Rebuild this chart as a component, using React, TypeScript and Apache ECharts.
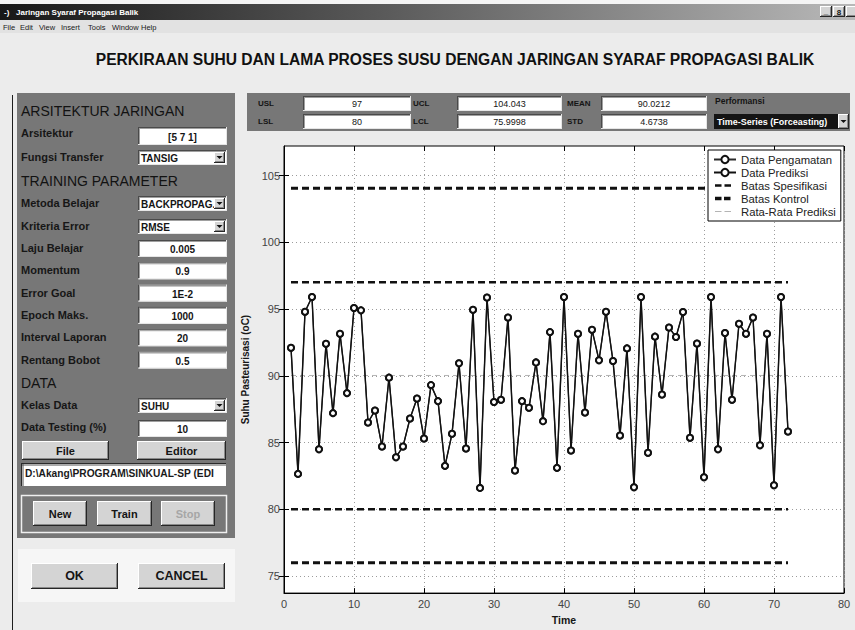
import React, { useEffect, useRef } from 'react';
import * as echarts from 'echarts';

const FONT = '"Liberation Sans", Arial, Helvetica, sans-serif';

// ---------- chart data ----------
const firstTime = 1;
const dataPengamatan = [
  92.1, 82.65, 94.8, 95.9, 84.5, 92.4, 87.2, 93.15, 88.7, 95.07,
  94.9, 86.5, 87.4, 84.7, 89.86, 83.9, 84.7, 86.8, 88.3, 85.3,
  89.3, 88.1, 83.25, 85.65, 90.94, 84.55, 94.95, 81.6, 95.86, 88.04,
  88.2, 94.36, 82.9, 88.1, 87.6, 91.0, 86.6, 93.27, 83.1, 95.9,
  84.4, 93.15, 87.25, 93.45, 91.16, 94.8, 91.1, 85.53, 92.05, 81.65,
  95.9, 84.23, 92.93, 88.6, 93.62, 92.9, 94.77, 85.36, 92.41, 82.4,
  95.9, 84.5, 93.2, 88.2, 93.9, 93.15, 94.36, 84.8, 93.15, 81.8,
  95.9, 85.83,
];
const dataPrediksi = [
  92.1, 82.65, 94.8, 95.9, 84.5, 92.4, 87.2, 93.15, 88.7, 95.07,
  94.9, 86.5, 87.4, 84.7, 89.86, 83.9, 84.7, 86.8, 88.3, 85.3,
  89.3, 88.1, 83.25, 85.65, 90.94, 84.55, 94.95, 81.6, 95.86, 88.04,
  88.2, 94.36, 82.9, 88.1, 87.6, 91.0, 86.6, 93.27, 83.1, 95.9,
  84.4, 93.15, 87.25, 93.45, 91.16, 94.8, 91.1, 85.53, 92.05, 81.65,
  95.9, 84.23, 92.93, 88.6, 93.62, 92.9, 94.77, 85.36, 92.41, 82.4,
  95.9, 84.5, 93.2, 88.2, 93.9, 93.15, 94.36, 84.8, 93.15, 81.8,
  95.9, 85.83,
];
const USL = 97;
const LSL = 80;
const UCL = 104.043;
const LCL = 75.9998;
const MEAN = 90.0212;
const xTicks = [0, 10, 20, 30, 40, 50, 60, 70, 80];
const yTicks = [75, 80, 85, 90, 95, 100, 105];
const X_MIN = 0;
const X_MAX = 80;
const Y_MIN = 73.72;
const Y_MAX = 107.21;
const legendNames = ['Data Pengamatan', 'Data Prediksi', 'Batas Spesifikasi', 'Batas Kontrol', 'Rata-Rata Prediksi'];

// ---------- GUI texts ----------
const windowTitle = 'Jaringan Syaraf Propagasi Balik';
const menuItems = ['File', 'Edit', 'View', 'Insert', 'Tools', 'Window', 'Help'];
const mainTitle = 'PERKIRAAN SUHU DAN LAMA PROSES SUSU DENGAN JARINGAN SYARAF PROPAGASI BALIK';
const statLabels = ['USL', 'LSL', 'UCL', 'LCL', 'MEAN', 'STD'];
const statValues = ['97', '80', '104.043', '75.9998', '90.0212', '4.6738'];

// legend icons (22 x 9 box) for the dashed reference lines
const ICON_SPEC = 'path://M0,0L0,0M22,9L22,9M1,3.3H7.5V5.7H1ZM10.5,3.3H17V5.7H10.5Z';
const ICON_KONTROL = 'path://M0,0L0,0M22,9L22,9M1,2.8H7.5V6.2H1ZM10,2.8H16.5V6.2H10Z';
const ICON_MEAN = 'path://M0,0L0,0M22,9L22,9M1,4H7.5V5H1ZM10.5,4H17V5H10.5Z';
const legendIcons: Record<string, string> = {
  'Batas Spesifikasi': ICON_SPEC,
  'Batas Kontrol': ICON_KONTROL,
  'Rata-Rata Prediksi': ICON_MEAN,
};

function buildGui(): any[] {
  const g: any[] = [];
  const R = (x: number, y: number, w: number, h: number, fill: any, stroke?: string, lw?: number) =>
    g.push({ type: 'rect', silent: true, shape: { x, y, width: w, height: h }, style: stroke ? { fill, stroke, lineWidth: lw || 1 } : { fill } });
  const L = (x1: number, y1: number, x2: number, y2: number, stroke: string, lw = 1) =>
    g.push({ type: 'line', silent: true, shape: { x1, y1, x2, y2 }, style: { stroke, lineWidth: lw } });
  const T = (x: number, y: number, text: string, size: number, weight: string, fill: string, align = 'left') =>
    g.push({ type: 'text', silent: true, x, y, style: { text, fontSize: size, fontWeight: weight, fill, fontFamily: FONT, align, verticalAlign: 'middle' } });
  const sunken = (x: number, y: number, w: number, h: number) => {
    R(x, y, w, h, '#fff');
    L(x, y + 0.5, x + w, y + 0.5, '#4a4a4a');
    L(x + 0.5, y, x + 0.5, y + h, '#4a4a4a');
    L(x + 1, y + 1.5, x + w - 1, y + 1.5, '#a0a0a0');
    L(x + 1.5, y + 1, x + 1.5, y + h - 1, '#a0a0a0');
    L(x, y + h - 0.5, x + w, y + h - 0.5, '#e6e6e6');
    L(x + w - 0.5, y, x + w - 0.5, y + h, '#e6e6e6');
  };
  const raised = (x: number, y: number, w: number, h: number) => {
    R(x, y, w, h, '#d4d4d4');
    L(x, y + 0.5, x + w - 1, y + 0.5, '#ffffff');
    L(x + 0.5, y, x + 0.5, y + h - 1, '#ffffff');
    L(x, y + h - 0.5, x + w, y + h - 0.5, '#262626');
    L(x + w - 0.5, y, x + w - 0.5, y + h, '#262626');
    L(x + 1, y + h - 1.5, x + w - 1, y + h - 1.5, '#8a8a8a');
    L(x + w - 1.5, y + 1, x + w - 1.5, y + h - 1, '#8a8a8a');
  };
  const button = (x: number, y: number, w: number, h: number, label: string, size: number, color = '#151515') => {
    raised(x, y, w, h);
    T(x + w / 2, y + h / 2, label, size, 'bold', color, 'center');
  };
  const input = (x: number, y: number, w: number, h: number, value: string, size = 10) => {
    sunken(x, y, w, h);
    T(x + w / 2, y + h / 2 + 1, value, size, 'bold', '#151515', 'center');
  };
  const arrowBtn = (bx: number, by: number, bw: number, bh: number) => {
    raised(bx, by, bw, bh);
    const cx = bx + bw / 2;
    const cy = by + bh / 2;
    g.push({ type: 'polygon', silent: true, shape: { points: [[cx - 3, cy - 1.5], [cx + 3, cy - 1.5], [cx, cy + 1.5]] }, style: { fill: '#111' } });
  };
  const dropdown = (x: number, y: number, w: number, h: number, value: string) => {
    sunken(x, y, w, h);
    T(x + 3, y + h / 2 + 1, value, 10, 'bold', '#151515');
    arrowBtn(x + w - 13, y + 2, 11, h - 4);
  };

  // window top strip, title bar and menu
  R(0, 0, 855, 4, '#f4f4f4');
  R(0, 4, 855, 16, new echarts.graphic.LinearGradient(0, 0, 1, 0, [
    { offset: 0, color: '#181818' },
    { offset: 0.45, color: '#5a5a5a' },
    { offset: 1, color: '#b8b8b8' },
  ]));
  T(4, 12.5, '-)', 8, 'bold', '#ffffff');
  T(16, 12.5, windowTitle, 8, 'bold', '#ffffff');
  raised(820, 6, 12, 11);
  T(826, 11, '_', 8, 'bold', '#111', 'center');
  raised(833, 6, 12, 11);
  T(839, 12, '8', 8, 'bold', '#111', 'center');
  raised(846, 6, 12, 11);
  R(0, 20, 855, 13, '#e2e2e2');
  const menuX = [3, 20, 39, 61, 88, 112, 141];
  menuItems.forEach((m, i) => T(menuX[i], 27, m, 7.5, 'normal', '#1a1a1a'));

  // main title
  T(455, 59, mainTitle, 15.6, 'bold', '#111', 'center');

  // frame line
  L(12.5, 95, 12.5, 630, '#1e1e1e');

  // left panel
  R(17, 93, 218, 445, '#777777');
  const H = (y: number, s: string) => T(21, y, s, 14, 'normal', '#121212');
  const lab = (y: number, s: string) => T(21, y, s, 11, 'bold', '#161616');
  H(111, 'ARSITEKTUR JARINGAN');
  lab(133, 'Arsitektur');
  input(138, 127, 89, 18, '[5 7 1]');
  lab(157, 'Fungsi Transfer');
  dropdown(138, 150, 89, 15, 'TANSIG');
  H(181, 'TRAINING PARAMETER');
  lab(203, 'Metoda Belajar');
  dropdown(138, 196, 89, 15, 'BACKPROPAG.');
  lab(226, 'Kriteria Error');
  dropdown(138, 219, 89, 15, 'RMSE');
  const params: [string, string][] = [
    ['Laju Belajar', '0.005'],
    ['Momentum', '0.9'],
    ['Error Goal', '1E-2'],
    ['Epoch Maks.', '1000'],
    ['Interval Laporan', '20'],
    ['Rentang Bobot', '0.5'],
  ];
  params.forEach(([l, v], i) => {
    const y = 240 + i * 22.3;
    lab(y + 8, l);
    input(138, y, 89, 17, v);
  });
  H(383, 'DATA');
  lab(405, 'Kelas Data');
  dropdown(138, 398, 89, 15, 'SUHU');
  lab(427, 'Data Testing (%)');
  input(138, 420, 89, 17, '10');
  button(22, 441, 87, 19, 'File', 11);
  button(137, 441, 89, 19, 'Editor', 11);
  R(21, 463, 205, 23, '#ffffff');
  L(21, 463.5, 226, 463.5, '#2a2a2a', 1);
  L(21.5, 463, 21.5, 486, '#2a2a2a', 1);
  L(22, 465, 226, 465, '#555', 1);
  L(23, 464, 23, 486, '#555', 1);
  T(25, 473.5, 'D:\\Akang\\PROGRAM\\SINKUAL-SP (EDI', 10.2, 'bold', '#1a1a1a');
  R(21.5, 495.5, 205, 37, 'none', '#efefef', 1.5);
  button(33, 501, 54, 25, 'New', 11);
  button(97, 501, 55, 25, 'Train', 11);
  button(161, 501, 54, 25, 'Stop', 11, '#a6a6a6');
  R(18, 549, 217, 53, '#f6f6f6');
  button(31, 563, 87, 26, 'OK', 12.5);
  button(138, 563, 87, 26, 'CANCEL', 12.5);

  // stats panel
  R(247, 93, 603, 38, '#777777');
  const labX = [258, 258, 413, 413, 567, 567];
  const boxX = [303, 303, 457, 457, 601, 601];
  const boxW = [108, 108, 105, 105, 106, 106];
  statLabels.forEach((s, i) => {
    const row = i % 2;
    const y = row === 0 ? 96 : 114;
    T(labX[i], y + 7.5, s, 8, 'bold', '#141414');
    sunken(boxX[i], y, boxW[i], 15);
    T(boxX[i] + boxW[i] / 2, y + 8, statValues[i], 9, 'normal', '#151515', 'center');
  });
  T(715, 101, 'Performansi', 8.5, 'bold', '#141414');
  R(714, 114, 124, 15, '#141414');
  T(717, 121.5, 'Time-Series (Forceasting)', 9, 'bold', '#ffffff');
  arrowBtn(838, 114, 11, 15);

  return g;
}

export default function App() {
  const ref = useRef<HTMLDivElement>(null);
  useEffect(() => {
    if (!ref.current) return;
    const chart = echarts.init(ref.current, null, { renderer: 'svg' });
    const toPoints = (arr: number[]) => arr.map((v, i) => [firstTime + i, v]);
    const lastTime = firstTime + dataPengamatan.length - 1;
    const hLine = (v: number) => [[firstTime, v], [lastTime, v]];
    const black = '#111111';
    const option: any = {
      animation: false,
      backgroundColor: '#ececec',
      textStyle: { fontFamily: FONT },
      grid: { left: 284, top: 146, width: 560, height: 454, show: true, backgroundColor: '#ffffff', borderColor: '#000', borderWidth: 1 },
      legend: {
        data: legendNames.map((n) => (legendIcons[n] ? { name: n, icon: legendIcons[n] } : { name: n })),
        orient: 'vertical',
        left: 708,
        top: 150,
        z: 20,
        backgroundColor: '#ffffff',
        borderColor: '#000',
        borderWidth: 1,
        borderRadius: 0,
        padding: [3, 5, 3, 5],
        itemGap: 0,
        itemWidth: 22,
        itemHeight: 9,
        selectedMode: false,
        textStyle: { fontSize: 11.3, color: '#222', fontFamily: FONT, lineHeight: 13 },
      },
      xAxis: [
        {
          type: 'value', min: X_MIN, max: X_MAX, interval: 10, position: 'bottom',
          axisLine: { show: true, onZero: false, lineStyle: { color: '#000' } },
          axisTick: { show: true, inside: true, length: 5, lineStyle: { color: '#000' } },
          axisLabel: { customValues: xTicks, fontSize: 11, color: '#444', margin: 5, fontFamily: FONT },
          splitLine: { show: true, lineStyle: { color: '#9c9c9c', type: [1, 3], width: 1 } },
          name: 'Time', nameLocation: 'middle', nameGap: 19,
          nameTextStyle: { fontSize: 10.5, fontWeight: 'bold', color: '#161616', fontFamily: FONT },
        },
        {
          type: 'value', min: X_MIN, max: X_MAX, interval: 10, position: 'top',
          axisLine: { show: false },
          axisTick: { show: true, inside: true, length: 5, lineStyle: { color: '#000' } },
          axisLabel: { show: false },
          splitLine: { show: false },
        },
      ],
      yAxis: [
        {
          type: 'value', min: Y_MIN, max: Y_MAX, splitNumber: 7, position: 'left',
          axisLine: { show: true, onZero: false, lineStyle: { color: '#000' } },
          axisTick: { show: true, inside: true, length: 5, customValues: yTicks, lineStyle: { color: '#000' } },
          axisLabel: { customValues: yTicks, fontSize: 11, color: '#444', margin: 4, fontFamily: FONT },
          splitLine: { show: true, lineStyle: { color: '#9c9c9c', type: [1, 3], width: 1 } },
          name: 'Suhu Pasteurisasi (oC)', nameLocation: 'middle', nameGap: 26, nameRotate: 90,
          nameTextStyle: { fontSize: 10, fontWeight: 'bold', color: '#161616', fontFamily: FONT },
        },
        {
          type: 'value', min: Y_MIN, max: Y_MAX, splitNumber: 7, position: 'right',
          axisLine: { show: false },
          axisTick: { show: true, inside: true, length: 5, customValues: yTicks, lineStyle: { color: '#000' } },
          axisLabel: { show: false },
          splitLine: { show: false },
        },
      ],
      series: [
        {
          name: 'Data Pengamatan', type: 'line', data: toPoints(dataPengamatan),
          symbol: 'emptyCircle', symbolSize: 6, color: black,
          itemStyle: { color: black, borderWidth: 1.2 },
          lineStyle: { color: '#2a2a2a', width: 1.2 }, z: 5, silent: true,
        },
        {
          name: 'Data Prediksi', type: 'line', data: toPoints(dataPrediksi),
          symbol: 'emptyCircle', symbolSize: 6, color: black,
          itemStyle: { color: black, borderWidth: 1.4 },
          lineStyle: { color: black, width: 1.4 }, z: 6, silent: true,
        },
        {
          name: 'Batas Spesifikasi', type: 'line', data: hLine(USL), symbol: 'none', color: black,
          lineStyle: { color: black, width: 2.6, type: [7, 4] }, z: 4, silent: true,
        },
        {
          name: 'Batas Spesifikasi', type: 'line', data: hLine(LSL), symbol: 'none', color: black,
          lineStyle: { color: black, width: 2.6, type: [7, 4] }, z: 4, silent: true,
        },
        {
          name: 'Batas Kontrol', type: 'line', data: hLine(UCL), symbol: 'none', color: black,
          lineStyle: { color: black, width: 3, type: [7, 4] }, z: 4, silent: true,
        },
        {
          name: 'Batas Kontrol', type: 'line', data: hLine(LCL), symbol: 'none', color: black,
          lineStyle: { color: black, width: 3, type: [7, 4] }, z: 4, silent: true,
        },
        {
          name: 'Rata-Rata Prediksi', type: 'line', data: hLine(MEAN), symbol: 'none', color: '#b4b4b4',
          lineStyle: { color: '#b4b4b4', width: 1, type: [5, 4] }, z: 3, silent: true,
        },
      ],
      graphic: buildGui(),
    };
    chart.setOption(option);
    return () => chart.dispose();
  }, []);
  return <div ref={ref} style={{ position: 'absolute', left: 0, top: 0, width: 855, height: 630 }} />;
}
